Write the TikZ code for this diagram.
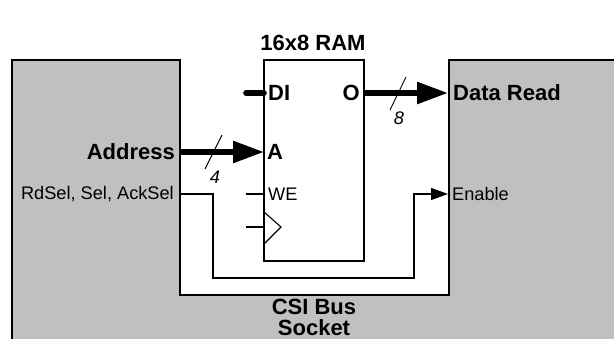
\documentclass[tikz,border=0pt]{standalone}
\usepackage{fontspec}
\setmainfont{Liberation Sans}
\usetikzlibrary{arrows.meta}
\definecolor{sockgray}{HTML}{C0C0C0}

\begin{document}
\begin{tikzpicture}[x=1pt,y=-1pt,
  box/.style={line width=1.7pt},
  wire/.style={line width=1.1pt},
  bus/.style={line width=5.6pt},
  slash/.style={line width=0.9pt},
  bigtip/.style={-{Triangle[length=31pt,width=21pt]}},
  smalltip/.style={-{Triangle[length=17pt,width=12pt]}},
  biglabel/.style={font=\fontsize{22}{21}\selectfont\bfseries,inner sep=0pt},
  smalllabel/.style={font=\fontsize{18.2}{20}\selectfont,inner sep=0pt},
  widthlabel/.style={font=\fontsize{18.2}{20}\selectfont\itshape,inner sep=0pt}]
\useasboundingbox (0,0) rectangle (614,339);
\coordinate (SockBL) at (12,339);
\coordinate (SockTL) at (12,60);
\coordinate (NotchTL) at (180,60);
\coordinate (NotchBL) at (180,295);
\coordinate (NotchBR) at (449,295);
\coordinate (NotchTR) at (449,60);
\coordinate (SockTR) at (614,60);
\coordinate (SockBR) at (614,339);
\fill[sockgray] (SockBL) -- (SockTL) -- (NotchTL) -- (NotchBL) -- (NotchBR) -- (NotchTR) -- (SockTR) -- (SockBR) -- cycle;
\draw[box] (SockBL) -- (SockTL) -- (NotchTL) -- (NotchBL) -- (NotchBR) -- (NotchTR) -- (SockTR);
\coordinate (RamTL) at (264,60);
\coordinate (RamBR) at (364,261);
\draw[box,fill=white] (RamTL) rectangle (RamBR);
% ram pins
\coordinate (DIpin) at (264,93);
\coordinate (DIstub) at (246,93);
\coordinate (Opin) at (364,93);
\coordinate (DataIn) at (448,93);
\coordinate (Apin) at (264,152);
\coordinate (AddrOut) at (180,152);
\coordinate (WEpin) at (264,194);
\coordinate (WEstub) at (246,194);
\coordinate (CKpin) at (264,227);
\coordinate (CKstub) at (246,227);
\draw[bus,line cap=round] (DIstub) -- (DIpin);
\draw[bus,bigtip] (Opin) -- (DataIn);
\draw[bus,bigtip] (AddrOut) -- (Apin);
\draw[wire] (WEstub) -- (WEpin);
\draw[wire] (CKstub) -- (CKpin);
\coordinate (CKtop) at (264,212);
\coordinate (CKtip) at (281,227);
\coordinate (CKbot) at (264,244);
\draw[wire] (CKtop) -- (CKtip) -- (CKbot);
% select wire
\coordinate (SelOut) at (180,194);
\coordinate (SelA) at (213,194);
\coordinate (SelB) at (213,278);
\coordinate (SelC) at (414,278);
\coordinate (SelD) at (414,194);
\coordinate (EnIn) at (448,194);
\draw[wire,smalltip] (SelOut) -- (SelA) -- (SelB) -- (SelC) -- (SelD) -- (EnIn);
% bus width marks
\coordinate (SlashA1) at (205,169);
\coordinate (SlashA2) at (222,135);
\coordinate (SlashD1) at (390,110);
\coordinate (SlashD2) at (406,77);
\draw[slash] (SlashA1) -- (SlashA2);
\draw[slash] (SlashD1) -- (SlashD2);
\node[widthlabel] (wfour) at (215,177) {4};
\node[widthlabel] (weight) at (399,118) {8};
\node[biglabel] (title) at (313,43) {16x8 RAM};
\node[biglabel,anchor=west] (lDI) at (268,93) {DI};
\node[biglabel,anchor=east] (lO) at (360,93) {O};
\node[biglabel,anchor=west] (lA) at (267,152) {A};
\node[biglabel,anchor=east] (lAddr) at (175,152) {Address};
\node[biglabel,anchor=west] (lData) at (453,93) {Data Read};
\node[smalllabel,anchor=west] (lWE) at (268,194) {WE};
\node[smalllabel,anchor=east] (lSel) at (174,194) {RdSel, Sel, AckSel};
\node[smalllabel,anchor=west] (lEn) at (452,194) {Enable};
\node[biglabel,align=center] (lCSI) at (314,317) {CSI Bus\\Socket};
\end{tikzpicture}
\end{document}
